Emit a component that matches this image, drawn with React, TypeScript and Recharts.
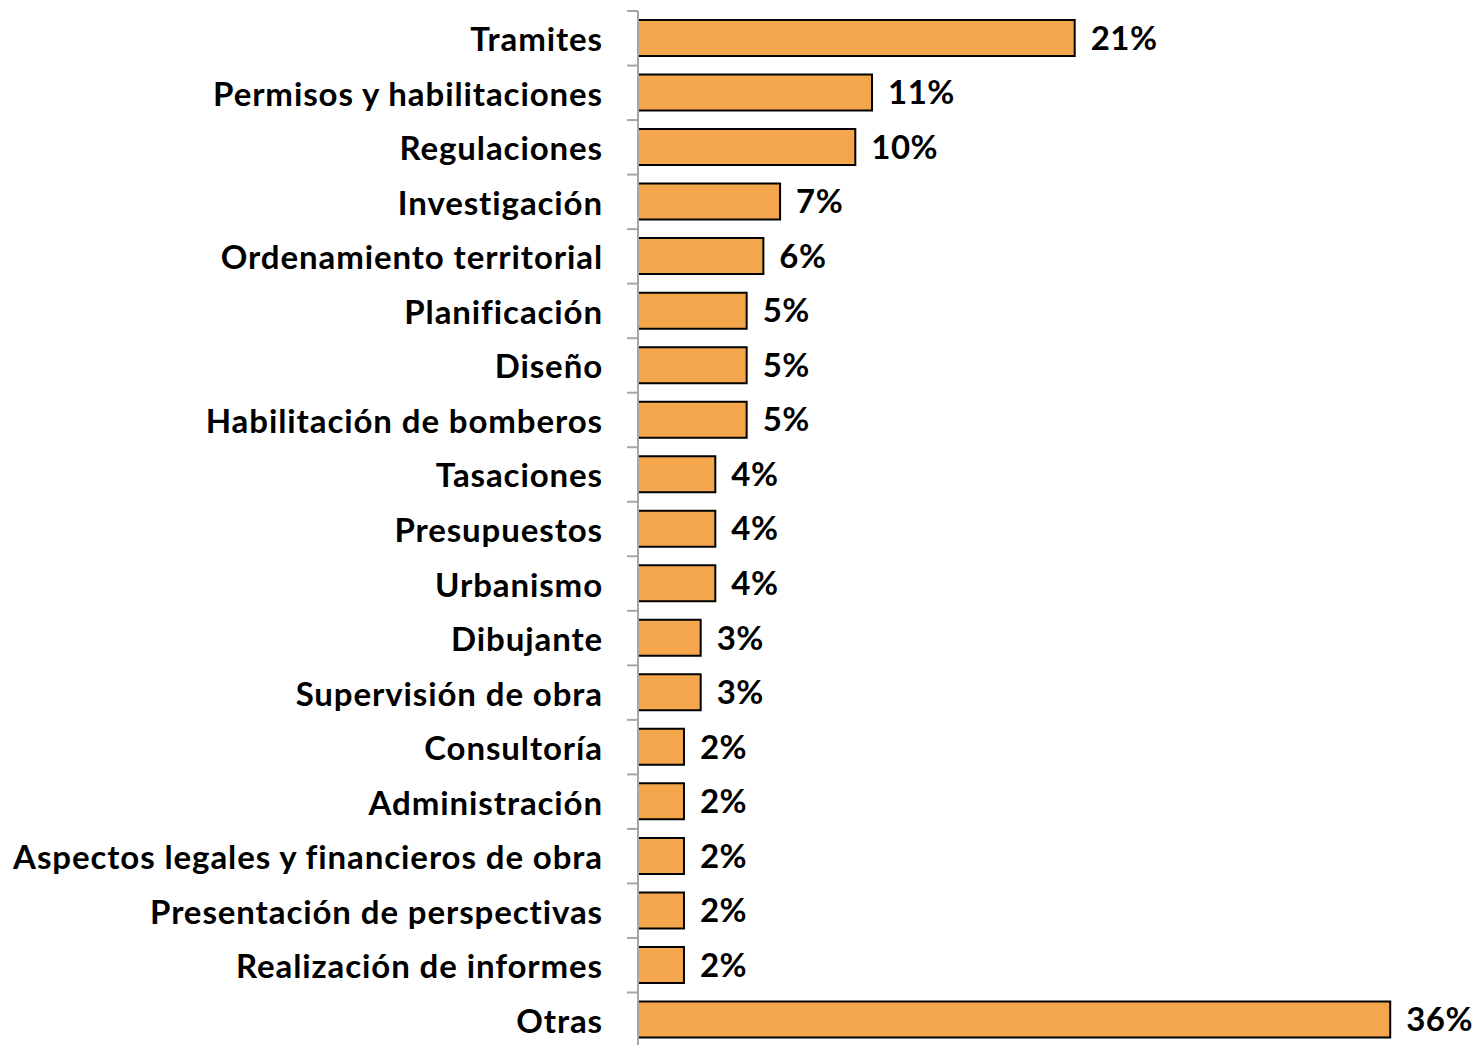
import { BarChart, Bar, XAxis, YAxis, LabelList } from "recharts";

const categories = [
  "Tramites",
  "Permisos y habilitaciones",
  "Regulaciones",
  "Investigación",
  "Ordenamiento territorial",
  "Planificación",
  "Diseño",
  "Habilitación de bomberos",
  "Tasaciones",
  "Presupuestos",
  "Urbanismo",
  "Dibujante",
  "Supervisión de obra",
  "Consultoría",
  "Administración",
  "Aspectos legales y financieros de obra",
  "Presentación de perspectivas",
  "Realización de informes",
  "Otras",
];
const values = [
  20.9, 11.2, 10.4, 6.8, 6.0, 5.2, 5.2, 5.2, 3.7, 3.7, 3.7, 3.0, 3.0, 2.2, 2.2,
  2.2, 2.2, 2.2, 36.0,
];

const data = categories.map((name, i) => ({ name, value: values[i] }));

const W = 1472;
const H = 1050;
const M = { top: 11, right: 40, bottom: 3, left: 0 };
const band = (H - M.top - M.bottom) / categories.length;
const FONT = "Lato, 'Noto Sans', sans-serif";

const CatTick = (props: any) => {
  const { x, y, payload } = props;
  const axisX = x + 35;
  return (
    <g>
      <line
        x1={axisX - 11}
        x2={axisX}
        y1={y - band / 2}
        y2={y - band / 2}
        stroke="#a6a6a6"
        strokeWidth={2}
      />
      <text
        x={x}
        y={y}
        textAnchor="end"
        dominantBaseline="central"
        fontFamily={FONT}
        fontWeight={700}
        fontSize={33}
        letterSpacing={0.9}
        fill="#000"
      >
        {payload.value}
      </text>
    </g>
  );
};

export default function App() {
  return (
    <div
      style={{
        position: "absolute",
        left: 0,
        top: 0,
        width: W,
        height: 1045,
        overflow: "hidden",
        background: "#fff",
      }}
    >
      <BarChart width={W} height={H} data={data} layout="vertical" margin={M}>
        <XAxis type="number" hide domain={[0, 38]} />
        <YAxis
          type="category"
          dataKey="name"
          width={638}
          tickLine={false}
          tickSize={0}
          tickMargin={35}
          axisLine={{ stroke: "#a6a6a6", strokeWidth: 2 }}
          tick={<CatTick />}
          interval={0}
        />
        <Bar
          dataKey="value"
          fill="#F3A64B"
          stroke="#000"
          strokeWidth={2}
          barSize={36}
          isAnimationActive={false}
        >
          <LabelList
            dataKey="value"
            position="right"
            offset={16}
            formatter={(v: any) => `${Math.round(Number(v))}%`}
            style={{
              fontFamily: FONT,
              fontWeight: 700,
              fontSize: 33,
              letterSpacing: 0.5,
              fill: "#000",
            }}
          />
        </Bar>
      </BarChart>
    </div>
  );
}
